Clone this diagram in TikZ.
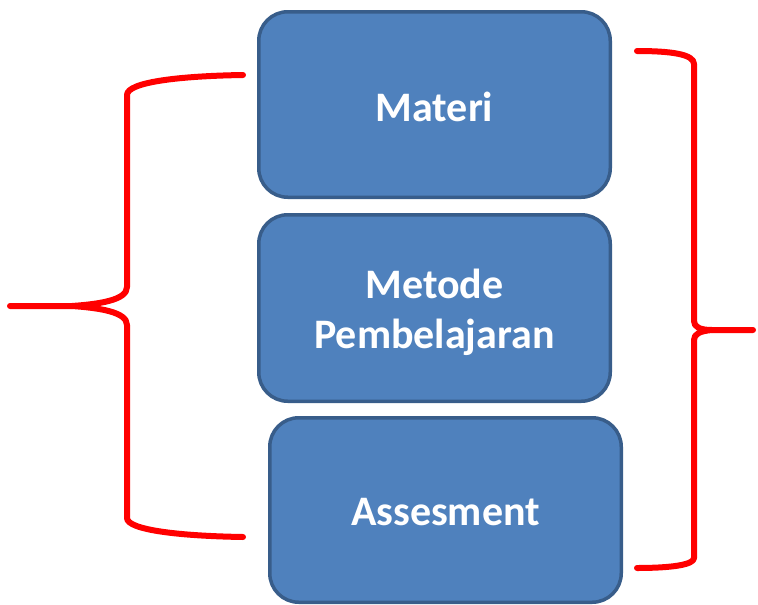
\documentclass[tikz,border=0pt]{standalone}
\usepackage{fontspec}
\setmainfont{Carlito}
\definecolor{boxfill}{HTML}{4F81BD}
\definecolor{boxline}{HTML}{385D8A}
\definecolor{bracered}{HTML}{FF0000}
\newcommand{\lowerby}[2]{\raisebox{-#1}[\height][\depth]{#2}}
\tikzset{
  block/.style={rectangle, rounded corners=29pt, fill=boxfill, draw=boxline, line width=3.5pt,
    minimum width=351.5pt, inner sep=0pt, text=white, align=center,
    font=\fontsize{42}{50}\selectfont\bfseries},
  bracepath/.style={draw=bracered, line width=6pt, line cap=round, line join=round}
}
\begin{document}
\begin{tikzpicture}[x=1pt,y=-1pt]
\useasboundingbox (0,0) rectangle (758,605);
\node[block, minimum height=185.5pt] (materi) at (434.5,104.5) {\lowerby{2pt}{Materi}};
\node[block, minimum height=186.5pt] (metode) at (434.5,308) {\lowerby{5pt}{\begin{tabular}{@{}c@{}}Metode\\Pembelajaran\end{tabular}}};
\node[block, minimum height=184.5pt] (assess) at (445.5,510) {\lowerby{2pt}{Assesment}};
% left brace
\draw[bracepath] (243,75) .. controls (180,76) and (127,82) .. (127,95) -- (127,287)
  .. controls (127,300) and (100,304) .. (72,306) -- (10,306);
\draw[bracepath] (72,306) .. controls (100,308) and (127,312) .. (127,325) -- (127,518)
  .. controls (127,530) and (180,536) .. (243,537);
% right brace
\draw[bracepath] (637,51) .. controls (670,51) and (694,54) .. (694,64) -- (694,321)
  .. controls (694,327) and (700,330) .. (712,330) -- (753,330);
\draw[bracepath] (712,330) .. controls (700,331) and (694,334) .. (694,340) -- (694,558)
  .. controls (694,565) and (670,568) .. (637,568);
\end{tikzpicture}
\end{document}
